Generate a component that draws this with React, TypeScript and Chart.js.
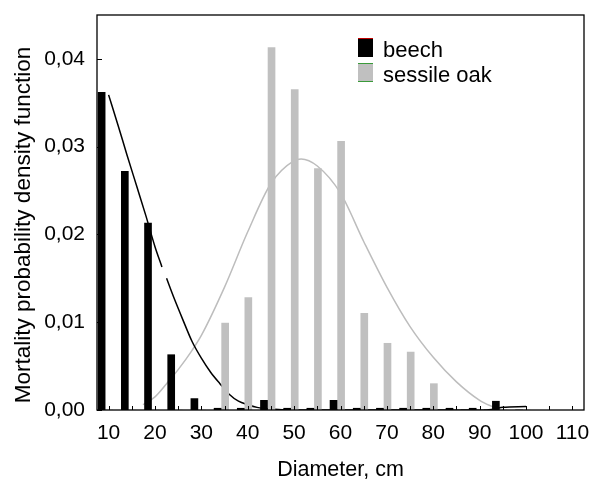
import React, { useEffect, useRef } from "react";
import { Chart, registerables } from "chart.js";

Chart.register(...registerables);

const FONT = "'Liberation Sans', Arial, Helvetica, sans-serif";

// Diameter classes (cm) of the histogram bars
const bins = [10, 15, 20, 25, 30, 35, 40, 45, 50, 55, 60, 65, 70, 75, 80, 85, 90, 95, 100];
// Observed mortality frequencies
const beechFreq = [0.0362, 0.0272, 0.0213, 0.0063, 0.0013, 0.0002, 0.0002, 0.0011, 0.0002, 0.0002, 0.0011, 0.0002, 0.0002, 0.0002, 0.0002, 0.0002, 0.0002, 0.0010, 0];
const oakFreq = [0, 0, 0, 0, 0, 0.0099, 0.0128, 0.0413, 0.0365, 0.0275, 0.0306, 0.011, 0.0076, 0.0066, 0.003, 0, 0, 0, 0];

// Fitted density curves
const beechCurveX = [10, 12, 14, 16, 18, 20, 21.5, 22, 22.5, 24, 26, 28, 30, 32, 34, 36, 38, 40, 42, 45, 50, 60, 70, 80, 90, 93, 95, 100];
const beechCurveY = [0.0359, 0.0325, 0.029, 0.0256, 0.0222, 0.0186, 0.0163, null, 0.015, 0.0129, 0.0103, 0.0078, 0.0059, 0.0043, 0.003, 0.0018, 0.001, 0.0006, 0.0003, 0.0001, 0, 0, 0, 0, 0, 0.0001, 0.0003, 0.0004];
const oakCurveX = [17.4, 20, 22.5, 25, 28, 30, 35, 40, 45, 50, 51.5, 55, 60, 65, 70, 75, 80, 85, 90, 93.5];
const oakCurveY = [0.0006, 0.0015, 0.003, 0.0046, 0.0068, 0.0085, 0.014, 0.0203, 0.0258, 0.0284, 0.0286, 0.0278, 0.0247, 0.0192, 0.014, 0.0095, 0.006, 0.0032, 0.0011, 0.0002];

// Axis ticks
const xTickLabels = [10, 20, 30, 40, 50, 60, 70, 80, 90, 100, 110];
const xTickMarks = [10, 15, 20, 25, 30, 35, 40, 45, 50, 55, 60, 65, 70, 75, 80, 85, 90, 95, 100, 105, 110];
const yTickValues = [0, 0.01, 0.02, 0.03, 0.04];

const seriesNames = ["beech", "sessile oak"];
const seriesColors = ["#000000", "#c0c0c0"];
const legendAccent = ["#c00000", "#3a9a3a"];

const yTitle = "Mortality probability density function";
const xTitle = "Diameter, cm";

const X_MIN = 7.5;
const X_MAX = 112.5;
// side-by-side placement of the two bar series within each class (axis units)
const BEECH_SHIFT = -1.5;
const OAK_SHIFT = 0.13;

const decorPlugin = {
  id: "decor",
  afterDatasetsDraw(chart: any) {
    const { ctx, chartArea: a, scales } = chart;
    ctx.save();
    ctx.strokeStyle = "#000";
    ctx.lineWidth = 1.3;
    ctx.strokeRect(a.left, a.top, a.right - a.left, a.bottom - a.top);
    ctx.lineWidth = 1;
    ctx.beginPath();
    for (const v of xTickMarks) {
      const px = Math.round(scales.x.getPixelForValue(v)) + 0.5;
      ctx.moveTo(px, a.bottom);
      ctx.lineTo(px, a.bottom - 4);
    }
    for (const v of yTickValues) {
      const py = Math.round(scales.y.getPixelForValue(v)) + 0.5;
      ctx.moveTo(a.left, py);
      ctx.lineTo(a.left + 5, py);
    }
    ctx.stroke();
    ctx.restore();
  },
  afterDraw(chart: any) {
    const { ctx, chartArea: a } = chart;
    ctx.save();
    ctx.fillStyle = "#000";
    ctx.font = `22.5px ${FONT}`;
    ctx.textAlign = "center";
    ctx.textBaseline = "alphabetic";
    ctx.translate(30, 225);
    ctx.rotate(-Math.PI / 2);
    ctx.fillText(yTitle, 0, 0);
    ctx.setTransform(1, 0, 0, 1, 0, 0);
    ctx.font = `21.5px ${FONT}`;
    ctx.fillText(xTitle, (a.left + a.right) / 2, 476);
    const lx = 358;
    const ly = 38;
    const rowH = 25;
    for (let i = 0; i < seriesNames.length; i++) {
      const y0 = ly + i * rowH;
      ctx.fillStyle = seriesColors[i];
      ctx.fillRect(lx, y0, 15, 19);
      ctx.fillStyle = legendAccent[i];
      ctx.fillRect(lx, y0, 15, 1);
      if (i === 1) ctx.fillRect(lx, y0 + 18, 15, 1);
      ctx.fillStyle = "#000";
      ctx.font = `22px ${FONT}`;
      ctx.textAlign = "left";
      ctx.textBaseline = "alphabetic";
      ctx.fillText(seriesNames[i], lx + 25, y0 + 19);
    }
    ctx.restore();
  },
};

const hiddenBarAxis = (shift: number) => ({
  type: "linear",
  display: false,
  offset: false,
  grid: { offset: false },
  min: X_MIN - shift,
  max: X_MAX - shift,
  afterBuildTicks: (s: any) => {
    s.ticks = bins.map((v) => ({ value: v }));
  },
});

export default function App() {
  const ref = useRef<HTMLCanvasElement | null>(null);

  useEffect(() => {
    document.body.style.margin = "0";
    const canvas = ref.current;
    if (!canvas) return;
    const chart = new Chart(canvas, {
      type: "bar",
      data: {
        datasets: [
          {
            type: "bar",
            label: seriesNames[0],
            data: bins.map((b, i) => ({ x: b, y: beechFreq[i] })),
            backgroundColor: seriesColors[0],
            xAxisID: "xBeech",
            yAxisID: "y",
            barThickness: 7,
            grouped: false,
            order: 0,
          } as any,
          {
            type: "bar",
            label: seriesNames[1],
            data: bins.map((b, i) => ({ x: b, y: oakFreq[i] })),
            backgroundColor: seriesColors[1],
            xAxisID: "xOak",
            yAxisID: "y",
            barThickness: 7,
            grouped: false,
            order: 0,
          } as any,
          {
            type: "line",
            label: seriesNames[0] + " fit",
            data: beechCurveX.map((x, i) => ({ x, y: beechCurveY[i] })),
            borderColor: "#000",
            borderWidth: 1.5,
            pointRadius: 0,
            cubicInterpolationMode: "monotone",
            spanGaps: false,
            xAxisID: "x",
            yAxisID: "y",
            order: 1,
          } as any,
          {
            type: "line",
            label: seriesNames[1] + " fit",
            data: oakCurveX.map((x, i) => ({ x, y: oakCurveY[i] })),
            borderColor: "#bdbdbd",
            borderWidth: 1.5,
            pointRadius: 0,
            cubicInterpolationMode: "monotone",
            xAxisID: "x",
            yAxisID: "y",
            order: 1,
          } as any,
        ],
      },
      options: {
        animation: false,
        responsive: false,
        devicePixelRatio: 1,
        layout: { padding: { top: 15, right: 7, left: 0, bottom: 0 } },
        plugins: { legend: { display: false }, tooltip: { enabled: false } },
        scales: {
          x: {
            type: "linear",
            position: "bottom",
            offset: false,
            min: X_MIN,
            max: X_MAX,
            grid: { display: false, drawTicks: false, offset: false },
            border: { display: false },
            ticks: {
              font: { family: FONT, size: 21 },
              color: "#000",
              padding: 11,
              maxRotation: 0,
              autoSkip: false,
            },
            afterBuildTicks: (s: any) => {
              s.ticks = xTickLabels.map((v) => ({ value: v }));
            },
            afterFit: (s: any) => {
              s.height = 69;
              s.paddingLeft = 0;
              s.paddingRight = 0;
            },
          },
          xBeech: hiddenBarAxis(BEECH_SHIFT),
          xOak: hiddenBarAxis(OAK_SHIFT),
          y: {
            type: "linear",
            min: 0,
            max: 0.045,
            grid: { display: false, drawTicks: false },
            border: { display: false },
            ticks: {
              font: { family: FONT, size: 21 },
              color: "#000",
              padding: 12,
              callback: (v: any) => Number(v).toFixed(2).replace(".", ","),
            },
            afterBuildTicks: (s: any) => {
              s.ticks = yTickValues.map((v) => ({ value: v }));
            },
            afterFit: (s: any) => {
              s.width = 97;
              s.paddingTop = 0;
              s.paddingBottom = 0;
            },
          },
        } as any,
      },
      plugins: [decorPlugin],
    });
    return () => chart.destroy();
  }, []);

  return (
    <canvas
      ref={ref}
      width={591}
      height={479}
      style={{ display: "block", width: 591, height: 479 }}
    />
  );
}
